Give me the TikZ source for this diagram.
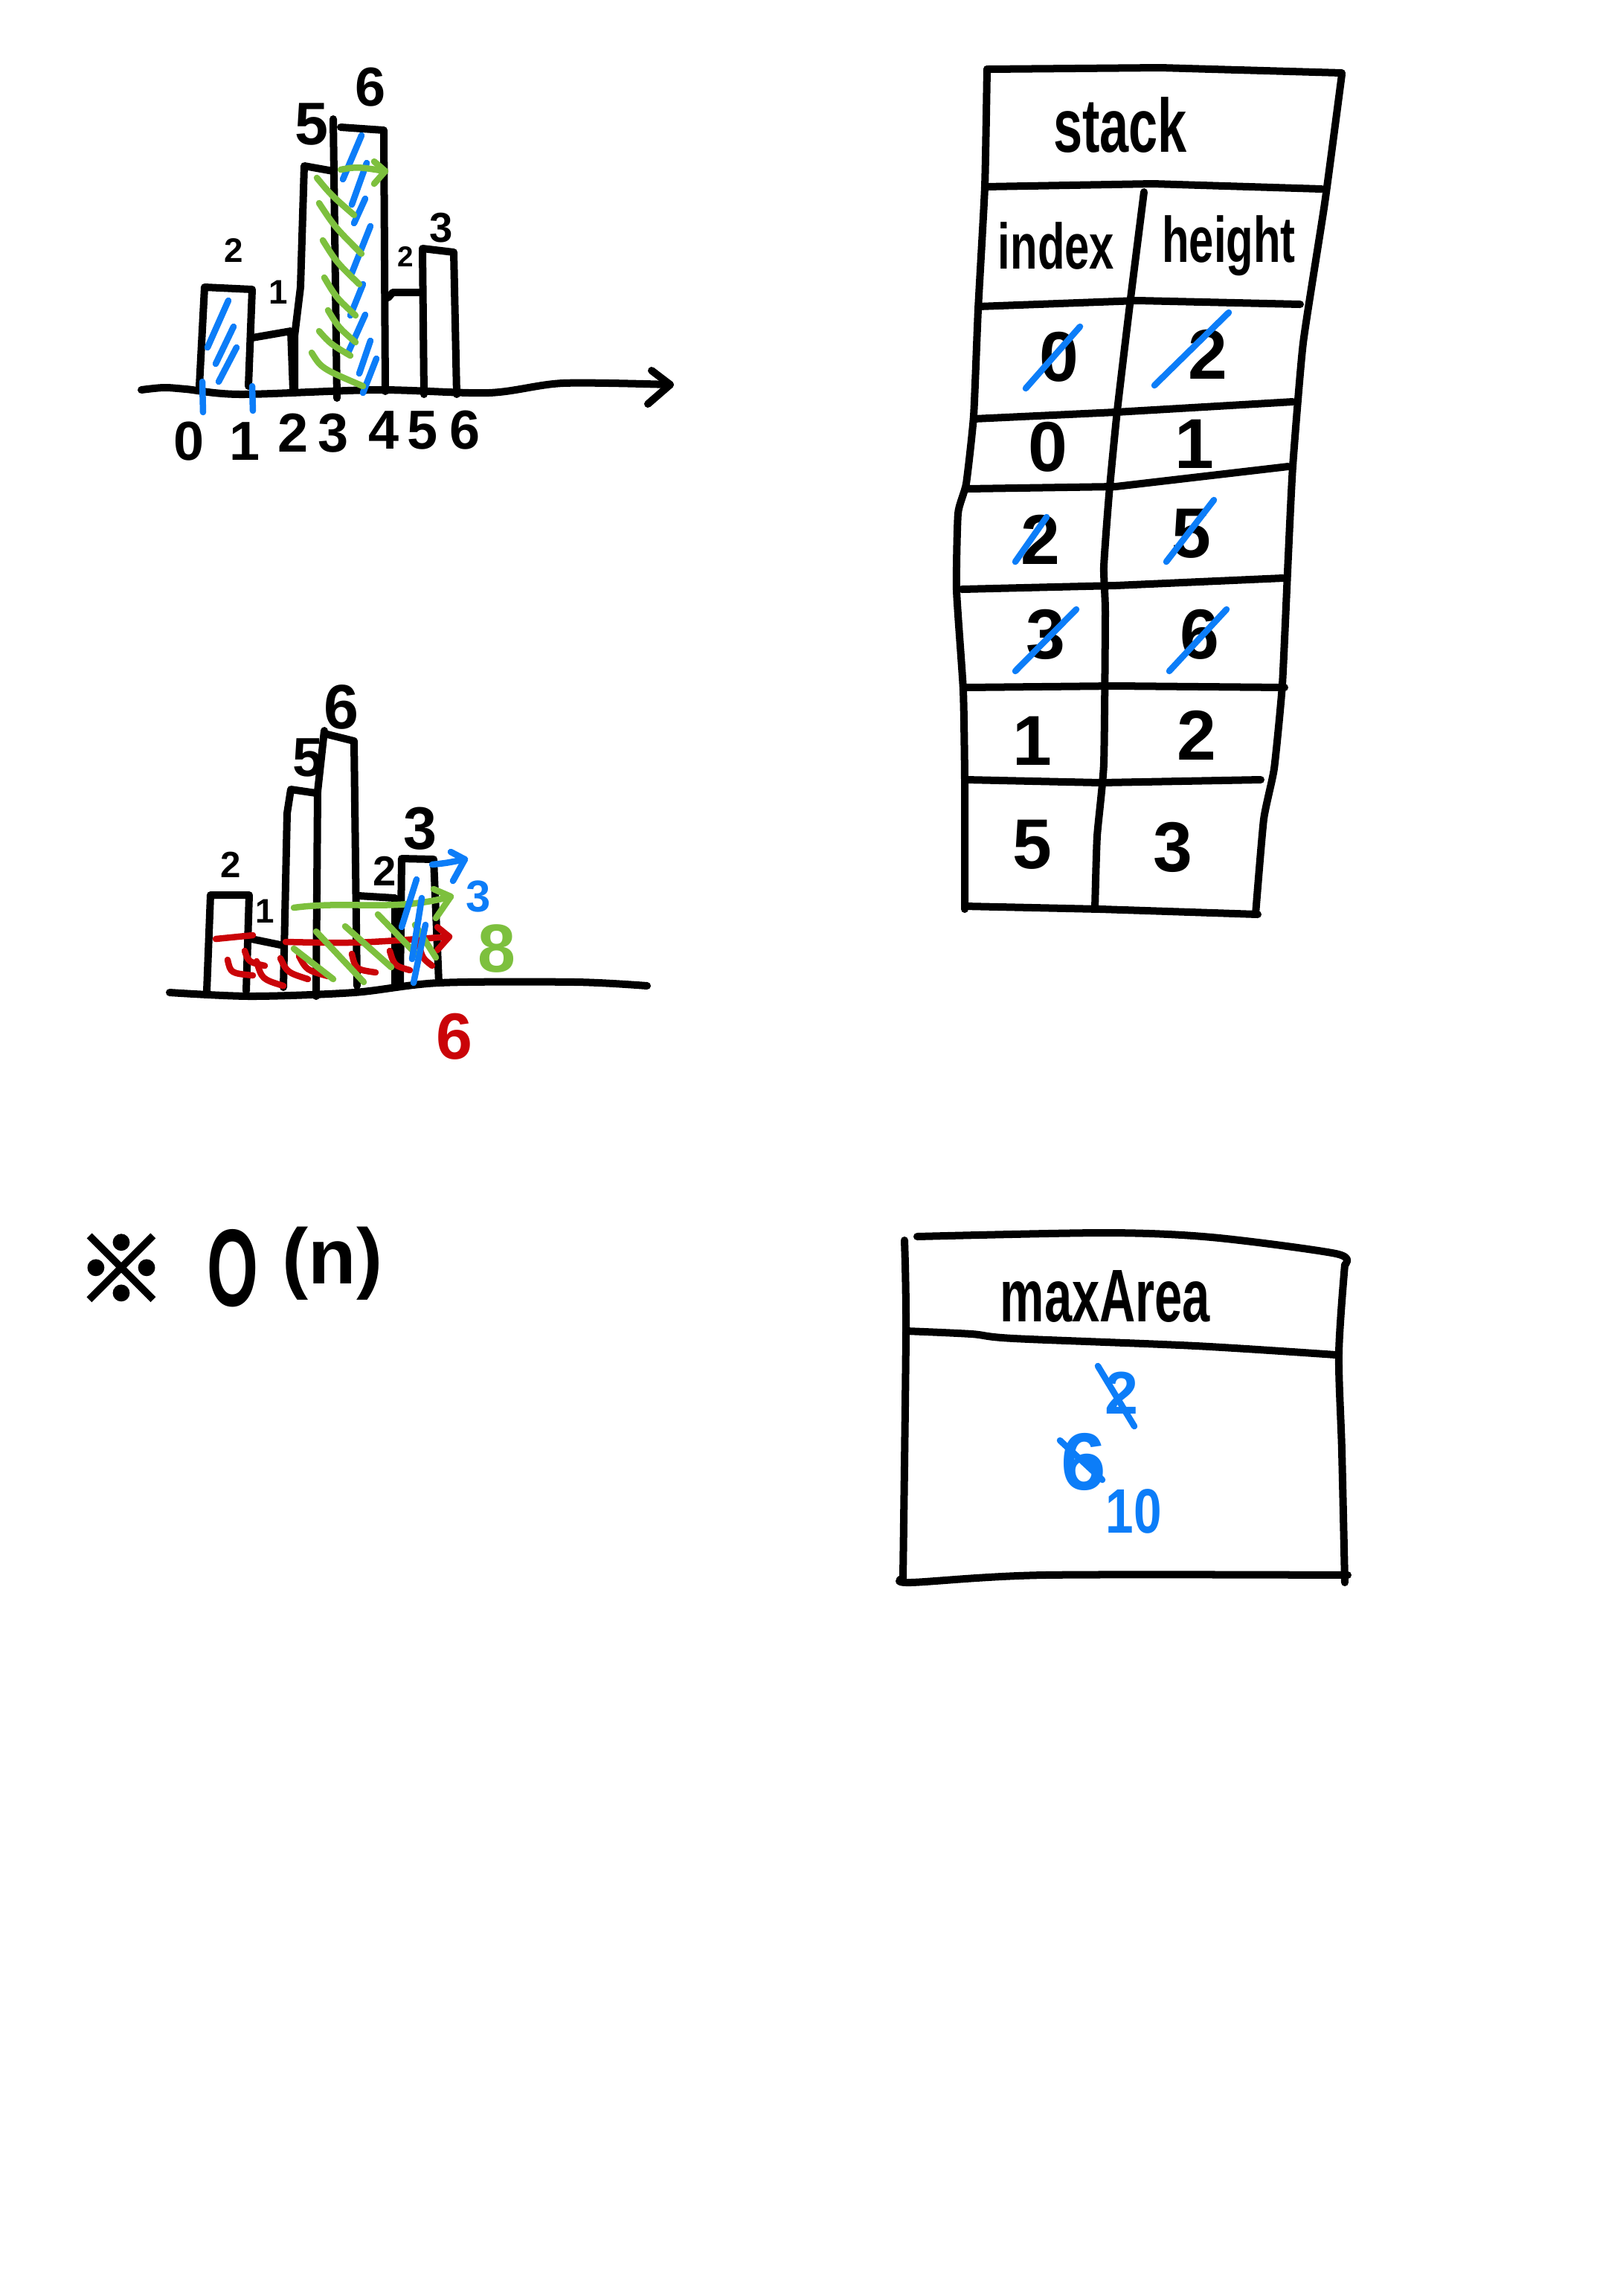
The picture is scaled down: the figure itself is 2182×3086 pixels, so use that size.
\documentclass[tikz,border=0pt]{standalone}
\usepackage{fontspec}
\usepackage{graphicx}
\setmainfont{Liberation Sans}
\newfontfamily\cjkfont[AutoFakeBold=4]{Noto Sans CJK SC}
\definecolor{hblue}{RGB}{12,125,248}
\definecolor{hgreen}{RGB}{125,192,62}
\definecolor{hred}{RGB}{202,4,8}
\tikzset{
  pen/.style={line width=0.1cm,line cap=round,line join=round},
  cpen/.style={line width=0.085cm,line cap=round,line join=round},
  txt/.style={inner sep=0pt,font=\bfseries\fontsize{#1}{#1}\selectfont},
}
\begin{document}
\begin{tikzpicture}[x=0.01cm,y=-0.01cm]
\useasboundingbox (0,0) rectangle (2182,3086);
\fill[white] (0,0) rectangle (2182,3086);

%% ---------------- top histogram ----------------
\draw[pen] plot[smooth] coordinates {(190,524) (220,521) (250,523) (324,530) (508,524) (657,528) (757,515) (901,517)};
\coordinate (axtip) at (901,517);
\draw[pen] (876,498) -- (axtip) -- (871,543);
\draw[pen] (268,519) -- (275,386) -- (339,389) -- (334,519);
\draw[pen] (339,454) -- (391,445) -- (394,524);
\draw[pen] (396,524) -- (396,452) -- (404,386) -- (409,223) -- (448,230);
\draw[pen] (448,160) -- (453,535);
\draw[pen] (458,171) -- (516,175) -- (518,526);
\draw[pen] (522,400) -- (528,393) -- (568,393);
\draw[pen] (568,336) -- (570,530);
\draw[pen] (568,334) -- (610,339) -- (614,530);

\node[txt=13] (ta) at (314,337) {2};
\node[txt=13] (tb) at (374,393) {1};
\node[txt=23] (tc) at (419,167) {5};
\node[txt=21] (td) at (498,117) {6};
\node[txt=11] (te) at (545,345) {2};
\node[txt=16] (tf) at (593,306) {3};
\node[txt=21] (x0) at (254,593) {0};
\node[txt=21] (x1) at (329,593) {1};
\node[txt=21] (x2) at (394,582) {2};
\node[txt=21] (x3) at (448,582) {3};
\node[txt=21] (x4) at (516,578) {4};
\node[txt=21] (x5) at (568,578) {5};
\node[txt=21] (x6) at (625,578) {6};

% blue marks
\draw[cpen,hblue] (272,513) -- (273,554);
\draw[cpen,hblue] (339,519) -- (340,552);
\draw[cpen,hblue] (279,467) -- (307,404);
\draw[cpen,hblue] (290,489) -- (314,439);
\draw[cpen,hblue] (294,513) -- (318,467);
\draw[cpen,hblue] (461,241) -- (486,182);
\draw[cpen,hblue] (473,275) -- (493,219);
\draw[cpen,hblue] (476,300) -- (491,267);
\draw[cpen,hblue] (473,367) -- (498,304);
\draw[cpen,hblue] (471,424) -- (488,382);
\draw[cpen,hblue] (468,474) -- (491,423);
\draw[cpen,hblue] (483,502) -- (498,458);
\draw[cpen,hblue] (488,528) -- (506,482);
% green marks
\draw[cpen,hgreen] (426,239) .. controls (445,262) .. (476,289);
\draw[cpen,hgreen] (429,273) .. controls (450,305) .. (486,341);
\draw[cpen,hgreen] (434,323) .. controls (452,352) .. (483,382);
\draw[cpen,hgreen] (436,373) .. controls (452,400) .. (478,424);
\draw[cpen,hgreen] (441,417) .. controls (455,440) .. (478,460);
\draw[cpen,hgreen] (429,445) .. controls (444,462) .. (471,478);
\draw[cpen,hgreen] (419,474) .. controls (432,495) .. (488,519);
\coordinate (gas) at (458,228);
\coordinate (gae) at (518,230);
\draw[cpen,hgreen] (gas) .. controls (480,224) .. (gae);
\draw[cpen,hgreen] (503,217) -- (gae) -- (503,247);

%% ---------------- bottom histogram ----------------
\draw[pen] plot[smooth] coordinates {(228,1334) (338,1339) (476,1334) (590,1321) (774,1320) (870,1325)};
\draw[pen] (278,1332) -- (283,1203) -- (335,1203) -- (331,1332);
\draw[pen] (338,1262) -- (377,1270);
\draw[pen] (381,1327) -- (386,1093) -- (391,1061) -- (425,1066);
\draw[pen] (436,982) -- (427,1064) -- (425,1339);
\draw[pen] (436,986) -- (476,996) -- (480,1325);
\draw[pen] (482,1204) -- (531,1207) -- (531,1323);
\draw[pen] (538,1323) -- (540,1154) -- (583,1155) -- (590,1321);

\node[txt=14] (ba) at (310,1162) {2};
\node[txt=13] (bb) at (356,1225) {1};
\node[txt=21] (bc) at (414,1018) {5};
\node[txt=24] (bd) at (459,950) {6};
\node[txt=16] (be) at (517,1171) {2};
\node[txt=23] (bf) at (565,1114) {3};
\node[txt=17,text=hblue] (bg) at (643,1205) {3};
\node[txt=26,text=hgreen] (bh) at (668,1275) {8};
\node[txt=25,text=hred] (bi) at (611,1393) {6};

% red
\draw[cpen,hred] (290,1262) -- (340,1257);
\coordinate (ras) at (384,1266);
\coordinate (rae) at (604,1259);
\draw[cpen,hred] (ras) .. controls (480,1268) .. (rae);
\draw[cpen,hred] (588,1246) -- (rae) -- (588,1277);
\draw[cpen,hred] (306,1290) .. controls (310,1308) .. (340,1311);
\draw[cpen,hred] (329,1278) .. controls (334,1293) .. (356,1298);
\draw[cpen,hred] (345,1292) .. controls (352,1316) .. (381,1325);
\draw[cpen,hred] (377,1288) .. controls (386,1307) .. (414,1316);
\draw[cpen,hred] (402,1285) .. controls (412,1304) .. (441,1312);
\draw[cpen,hred] (473,1282) .. controls (478,1303) .. (505,1307);
\draw[cpen,hred] (524,1278) .. controls (530,1298) .. (551,1304);
\draw[cpen,hred] (563,1269) .. controls (568,1288) .. (581,1298);
% green
\coordinate (gbs) at (395,1220);
\coordinate (gbe) at (606,1205);
\draw[cpen,hgreen] (gbs) .. controls (470,1210) and (530,1226) .. (gbe);
\draw[cpen,hgreen] (583,1195) -- (gbe) -- (586,1234);
\draw[cpen,hgreen] (395,1275) -- (448,1316);
\draw[cpen,hgreen] (425,1252) -- (489,1320);
\draw[cpen,hgreen] (464,1245) -- (526,1300);
\draw[cpen,hgreen] (508,1229) -- (563,1286);
\draw[cpen,hgreen] (558,1243) -- (586,1287);
% blue
\coordinate (bbs) at (581,1162);
\coordinate (bbe) at (625,1155);
\draw[cpen,hblue] (bbs) .. controls (600,1160) .. (bbe);
\draw[cpen,hblue] (606,1145) -- (bbe) -- (609,1184);
\draw[cpen,hblue] (540,1246) -- (560,1182);
\draw[cpen,hblue] (554,1289) -- (567,1207);
\draw[cpen,hblue] (556,1321) -- (572,1243);

%% ---------------- stack table ----------------
\draw[pen] (1327,93) -- (1560,91) -- (1804,98);
\draw[pen] plot[smooth,tension=0.3] coordinates {(1327,93) (1324,251) (1315,416) (1309,559) (1299,650) (1288,690) (1286,793) (1295,928) (1297,1048) (1297,1222)};
\draw[pen] plot[smooth,tension=0.3] coordinates {(1804,100) (1781,273) (1752,461) (1738,627) (1732,747) (1724,920) (1713,1033) (1699,1101) (1688,1229)};
\draw[pen] (1297,1218) -- (1480,1222) -- (1691,1229);
\draw[pen] (1324,251) -- (1550,247) -- (1777,254);
\draw[pen] (1315,412) -- (1530,404) -- (1748,409);
\draw[pen] (1309,563) -- (1500,554) -- (1738,540);
\draw[pen] (1300,657) -- (1500,654) -- (1732,627);
\draw[pen] (1293,792) -- (1500,787) -- (1725,777);
\draw[pen] (1297,924) -- (1500,922) -- (1727,924);
\draw[pen] (1299,1048) -- (1480,1052) -- (1695,1048);
\draw[pen] plot[smooth,tension=0.3] coordinates {(1538,258) (1520,401) (1502,552) (1491,665) (1484,762) (1486,823) (1484,1026) (1475,1124) (1472,1222)};

\node[txt=20] (stk) at (1506,168) {\scalebox{1}[1.45]{stack}};
\node[txt=17] (idx) at (1420,330) {\scalebox{1}[1.45]{index}};
\node[txt=17] (hgt) at (1652,330) {\scalebox{1}[1.45]{height}};
\node[txt=27] (c1a) at (1424,480) {0};
\node[txt=27] (c1b) at (1624,476) {2};
\node[txt=27] (c2a) at (1409,601) {0};
\node[txt=27] (c2b) at (1606,597) {1};
\node[txt=27] (c3a) at (1399,725) {2};
\node[txt=27] (c3b) at (1602,717) {5};
\node[txt=27] (c4a) at (1406,853) {3};
\node[txt=27] (c4b) at (1613,853) {6};
\node[txt=27] (c5a) at (1388,996) {1};
\node[txt=27] (c5b) at (1609,988) {2};
\node[txt=27] (c6a) at (1388,1135) {5};
\node[txt=27] (c6b) at (1577,1139) {3};
\draw[cpen,hblue] (1379,522) -- (1452,439);
\draw[cpen,hblue] (1552,518) -- (1652,420);
\draw[cpen,hblue] (1365,755) -- (1407,695);
\draw[cpen,hblue] (1568,755) -- (1632,672);
\draw[cpen,hblue] (1365,902) -- (1447,819);
\draw[cpen,hblue] (1572,902) -- (1649,819);

%% ---------------- maxArea box ----------------
\draw[pen] plot[smooth] coordinates {(1233,1662) (1486,1657) (1629,1663) (1796,1685) (1808,1700)};
\draw[pen] plot[smooth] coordinates {(1216,1667) (1218,1789) (1214,2121)};
\draw[pen] plot[smooth] coordinates {(1808,1700) (1800,1819) (1804,1950) (1808,2127)};
\draw[pen] plot[smooth] coordinates {(1214,2121) (1224,2127) (1404,2117) (1812,2117)};
\draw[pen] plot[smooth] coordinates {(1218,1789) (1306,1793) (1363,1799) (1608,1809) (1796,1821)};
\node[txt=19] (mx) at (1486,1742) {\scalebox{1}[1.5]{maxArea}};
\node[txt=23,text=hblue] (m2) at (1508,1872) {2};
\draw[cpen,hblue] (1476,1836) -- (1525,1917);
\node[txt=31,text=hblue] (m6) at (1457,1965) {6};
\draw[cpen,hblue] (1425,1936) -- (1482,1989);
\node[txt=24,text=hblue] (m10) at (1524,2031) {\scalebox{0.8}[1]{10}};

%% ---------------- complexity ----------------
\node[inner sep=0pt,font=\cjkfont\bfseries\fontsize{34}{34}\selectfont] (ref) at (163,1705) {※};
\node[txt=42] (bigO) at (313,1705) {\scalebox{0.6}[1]{O}};
\node[txt=30] (paren) at (447,1698) {(n)};
\end{tikzpicture}
\end{document}
